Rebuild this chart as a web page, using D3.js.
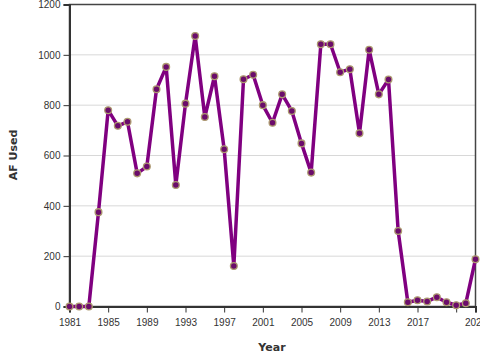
<!DOCTYPE html>
<html>
<head>
<meta charset="utf-8">
<script src="https://cdn.jsdelivr.net/npm/d3@7"></script>
<style>
  body { margin: 0; background: #fff; overflow: hidden; }
  svg { display: block; font-family: 'DejaVu Sans', Verdana, sans-serif; }
  .tick text { font-size: 10px; fill: #333; }
  .axisTitle { font-size: 11px; font-weight: bold; fill: #333; }
</style>
</head>
<body>
<svg width="480" height="360"></svg>
<script>
// ## DATA ##
const years = d3.range(1981, 2024)
const afUsed = [0, 0, 0, 375, 780, 718, 734, 529, 556, 863, 952, 483, 806, 1075, 753, 915, 625, 161,
  903, 921, 800, 730, 843, 777, 648, 532, 1042, 1042, 931, 943, 688, 1020, 843, 902, 300,
  17, 25, 20, 37, 17, 5, 13, 188]
const yTicks = [0, 200, 400, 600, 800, 1000, 1200]
const xTicks = [1981, 1985, 1989, 1993, 1997, 2001, 2005, 2009, 2013, 2017, 2021, 2023]
const xLabels = [1981, 1985, 1989, 1993, 1997, 2001, 2005, 2009, 2013, 2017, 2023]

const data = years.map((y, i) => ({ year: y, value: afUsed[i] }))

// ## D3 VARIABLES ##
const svg = d3.select('svg')
const margin = { left: 69.5, right: 4.5, top: 4.5, bottom: 53.5 }
const width = 480
const height = 360
const innerWidth = width - margin.left - margin.right
const innerHeight = height - margin.top - margin.bottom

const scaleX = d3.scaleLinear().domain([1981, 2023]).range([0, innerWidth])
const scaleY = d3.scaleLinear().domain([0, 1200]).range([innerHeight, 0])

const g = svg.append('g').attr('transform', 'translate(' + margin.left + ',' + margin.top + ')')

// gridlines
g.selectAll('.grid').data(yTicks)
  .enter().append('line')
  .attr('class', 'grid')
  .attr('x1', 0).attr('x2', innerWidth)
  .attr('y1', d => scaleY(d)).attr('y2', d => scaleY(d))
  .attr('stroke', '#d8d8d8').attr('stroke-width', 1)

// frame
g.append('rect')
  .attr('width', innerWidth).attr('height', innerHeight)
  .attr('fill', 'none').attr('stroke', '#444').attr('stroke-width', 1.5)

// axes
const yAxisGroup = g.append('g')
  .call(d3.axisLeft(scaleY).tickValues(yTicks).tickFormat(d3.format('d')).tickSize(6).tickPadding(3))
yAxisGroup.select('.domain').attr('stroke', '#333').attr('stroke-width', 2)
yAxisGroup.selectAll('.tick line').attr('stroke', '#333')

const xAxisGroup = g.append('g')
  .attr('transform', 'translate(0,' + innerHeight + ')')
  .call(d3.axisBottom(scaleX).tickValues(xTicks).tickSize(6).tickPadding(6).tickFormat(d3.format('d')))
xAxisGroup.select('.domain').attr('stroke', '#333').attr('stroke-width', 2)
xAxisGroup.selectAll('.tick line').attr('stroke', '#333')
// label of 2021 is hidden in the original (overlap)
xAxisGroup.selectAll('.tick text').filter(d => !xLabels.includes(d)).remove()

// axis titles
svg.append('text')
  .attr('class', 'axisTitle')
  .attr('transform', 'translate(17,' + 155 + ') rotate(-90)')
  .attr('text-anchor', 'middle')
  .text('AF Used')

svg.append('text')
  .attr('class', 'axisTitle')
  .attr('x', 272).attr('y', 351)
  .attr('text-anchor', 'middle')
  .text('Year')

// line
const line = d3.line().x(d => scaleX(d.year)).y(d => scaleY(d.value))
g.append('path')
  .datum(data)
  .attr('d', line)
  .attr('fill', 'none')
  .attr('stroke', '#800080')
  .attr('stroke-width', 3.5)
  .attr('stroke-linejoin', 'round')

// points
g.selectAll('.dot').data(data)
  .enter().append('circle')
  .attr('class', 'dot')
  .attr('cx', d => scaleX(d.year))
  .attr('cy', d => scaleY(d.value))
  .attr('r', 3.4)
  .attr('fill', '#6b0c6b')
  .attr('stroke', '#ad9a70')
  .attr('stroke-width', 1.3)
</script>
</body>
</html>
